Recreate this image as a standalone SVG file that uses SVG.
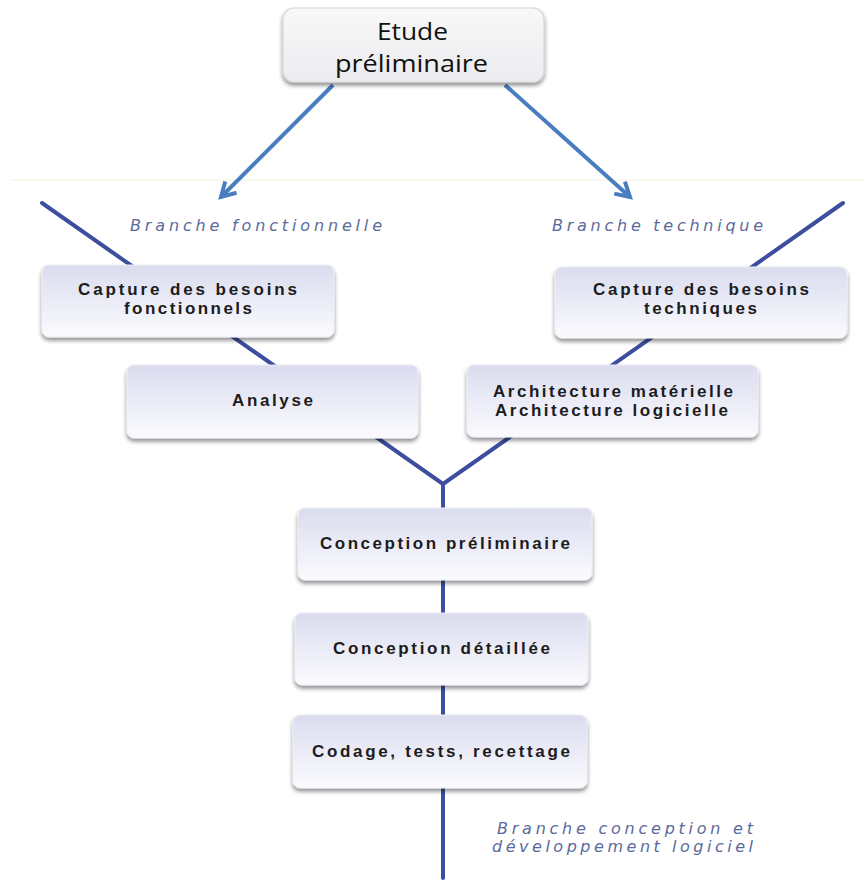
<svg xmlns="http://www.w3.org/2000/svg" width="864" height="881" viewBox="0 0 864 881">
<style>
.box{fill:url(#boxg);stroke:#ecedf4;stroke-width:1;filter:url(#sh)}
.top{fill:url(#topg);stroke:#d6d7dc;stroke-width:1.2;filter:url(#sh)}
.lbl{font-family:"Liberation Sans",Arial,sans-serif;font-weight:bold;font-size:17px;fill:#1c1c20}
.br{font-family:"DejaVu Sans","Liberation Sans",sans-serif;font-style:italic;font-size:16px;fill:#5b6a9c}
.et{font-family:"Open Sans","Liberation Sans",sans-serif;font-size:24px;fill:#111}
.ln{stroke:#3e4e9e;stroke-width:4;fill:none;stroke-linecap:round}
.arr{stroke:#4a7cc0;stroke-width:4;fill:none}
</style>
<defs>
<linearGradient id="boxg" x1="0" y1="0" x2="0" y2="1">
<stop offset="0" stop-color="#dadcef"/>
<stop offset="1" stop-color="#fbfbfe"/>
</linearGradient>
<linearGradient id="topg" x1="0" y1="0" x2="0" y2="1">
<stop offset="0" stop-color="#f8f8f9"/>
<stop offset="1" stop-color="#ececef"/>
</linearGradient>
<filter id="sh" x="-10%" y="-10%" width="120%" height="130%">
<feGaussianBlur in="SourceAlpha" stdDeviation="2"/>
<feOffset dx="0" dy="3" result="b"/>
<feComponentTransfer><feFuncA type="linear" slope="0.45"/></feComponentTransfer>
<feMerge><feMergeNode/><feMergeNode in="SourceGraphic"/></feMerge>
</filter>
<marker id="ah" viewBox="0 0 10 10" refX="8" refY="5" markerWidth="5" markerHeight="5" orient="auto" markerUnits="strokeWidth">
<path d="M1,1 L8,5 L1,9" fill="none" stroke="#4a7cc0" stroke-width="2" stroke-linejoin="miter"/>
</marker>
</defs>
<rect width="864" height="881" fill="#ffffff"/>
<line x1="10" y1="180" x2="864" y2="180" stroke="#f6f6ea" stroke-width="1.5"/>

<g id="connectors">
<line class="arr" x1="333" y1="85" x2="221" y2="197" marker-end="url(#ah)"/>
<line class="arr" x1="505" y1="85" x2="630" y2="197" marker-end="url(#ah)"/>
<polyline class="ln" points="42,203 443,484 843,203"/>
<line class="ln" x1="443" y1="484" x2="443" y2="878" stroke-width="5"/>
</g>

<g id="etude">
<rect class="top" x="283" y="8" width="261" height="74" rx="11"/>
<text class="et" x="377" y="40" textLength="71" lengthAdjust="spacingAndGlyphs">Etude</text>
<text class="et" x="335" y="72" textLength="153" lengthAdjust="spacingAndGlyphs">préliminaire</text>
</g>

<g id="label-fonctionnelle"><text class="br" x="130" y="231" textLength="252" lengthAdjust="spacing">Branche fonctionnelle</text></g>
<g id="label-technique"><text class="br" x="552" y="231" textLength="211" lengthAdjust="spacing">Branche technique</text></g>

<g id="capture-fonc">
<rect class="box" x="42" y="265" width="292" height="72" rx="7"/>
<text class="lbl" x="78" y="295" textLength="219" lengthAdjust="spacing">Capture des besoins</text>
<text class="lbl" x="124" y="314" textLength="128" lengthAdjust="spacing">fonctionnels</text>
</g>

<g id="capture-tech">
<rect class="box" x="555" y="267" width="292" height="71" rx="7"/>
<text class="lbl" x="593" y="295" textLength="216" lengthAdjust="spacing">Capture des besoins</text>
<text class="lbl" x="644" y="314" textLength="113" lengthAdjust="spacing">techniques</text>
</g>

<g id="analyse">
<rect class="box" x="127" y="365" width="291" height="73" rx="7"/>
<text class="lbl" x="232" y="406" textLength="81" lengthAdjust="spacing">Analyse</text>
</g>

<g id="architecture">
<rect class="box" x="467" y="365" width="291" height="72" rx="7"/>
<text class="lbl" x="493" y="397" textLength="240" lengthAdjust="spacing">Architecture matérielle</text>
<text class="lbl" x="495" y="416" textLength="233" lengthAdjust="spacing">Architecture logicielle</text>
</g>

<g id="conception-prelim">
<rect class="box" x="298" y="508" width="294" height="72" rx="7"/>
<text class="lbl" x="320" y="549" textLength="250" lengthAdjust="spacing">Conception préliminaire</text>
</g>

<g id="conception-detail">
<rect class="box" x="295" y="613" width="293" height="72" rx="7"/>
<text class="lbl" x="333" y="654" textLength="217" lengthAdjust="spacing">Conception détaillée</text>
</g>

<g id="codage">
<rect class="box" x="293" y="715" width="294" height="73" rx="7"/>
<text class="lbl" x="312" y="757" textLength="258" lengthAdjust="spacing">Codage, tests, recettage</text>
</g>

<g id="label-conception">
<text class="br" x="497" y="834" textLength="256" lengthAdjust="spacing">Branche conception et</text>
<text class="br" x="492" y="852" textLength="261" lengthAdjust="spacing">développement logiciel</text>
</g>
</svg>
